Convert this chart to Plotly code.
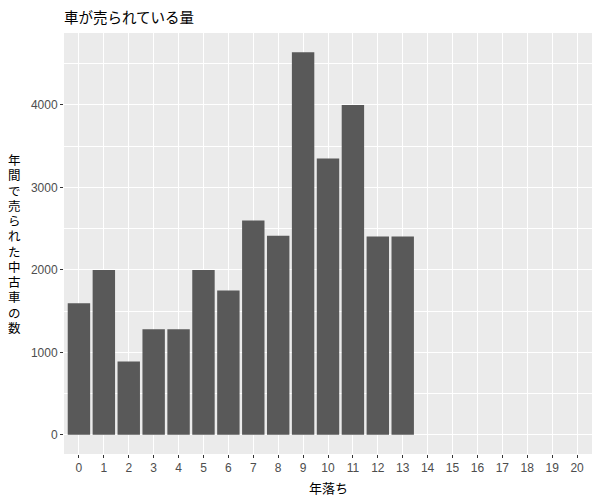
import plotly.graph_objects as go

# 年落ち (years old) and number of used cars sold per year
years_old = list(range(14))
cars_sold = [1595, 2000, 890, 1280, 1280, 2000, 1750, 2600, 2415, 4640, 3350, 4000, 2405, 2405]
x_ticks = list(range(21))
y_ticks = [0, 1000, 2000, 3000, 4000]

title_text = '車が売られている量'
x_title = '年落ち'
y_title = '年間で売られた中古車の数'

cjk = 'Noto Sans CJK JP'
latin = 'Liberation Sans, Arial, sans-serif'

# the page body has an 8px margin, so the figure is made 8px smaller
W, H = 592, 492

fig = go.Figure(go.Bar(x=years_old, y=cars_sold, width=0.9,
                       marker=dict(color='#595959', line=dict(width=0))))

fig.update_layout(
    width=W, height=H,
    margin=dict(l=56, r=8, t=25, b=46, autoexpand=False),
    paper_bgcolor='white', plot_bgcolor='#EBEBEB',
    showlegend=False,
    title=dict(text=title_text, x=0, xref='paper', xanchor='left',
               y=1 - 10 / H, yref='container', yanchor='middle',
               font=dict(family=cjk, size=14.5, color='black')),
)

fig.update_xaxes(
    range=[-0.6, 20.6], tickvals=x_ticks, ticktext=[str(t) for t in x_ticks],
    showgrid=True, gridcolor='white', gridwidth=1.1, zeroline=False,
    ticks='outside', ticklen=3, tickwidth=1, tickcolor='#333333',
    tickfont=dict(family=latin, size=12, color='#4D4D4D'),
    showline=False, automargin=False,
)
fig.update_yaxes(
    range=[-232, 4872], tickvals=y_ticks, ticktext=[str(t) for t in y_ticks],
    showgrid=True, gridcolor='white', gridwidth=1.1, zeroline=False,
    minor=dict(dtick=500, tick0=500, showgrid=True, gridcolor='white', gridwidth=0.5),
    ticks='outside', ticklen=3, tickwidth=1, tickcolor='#333333',
    tickfont=dict(family=latin, size=12, color='#4D4D4D'),
    showline=False, automargin=False,
)

# x-axis title
fig.add_annotation(text=x_title, xref='paper', yref='paper', x=0.5, y=0,
                   xanchor='center', yanchor='middle', yshift=-33, showarrow=False,
                   font=dict(family=cjk, size=13, color='black'))

# stacked vertical y-axis title, one character per line like the original
step = 15.25
n = len(y_title)
for i, ch in enumerate(y_title):
    fig.add_annotation(text=ch, xref='paper', yref='paper', x=0, y=0.5,
                       xanchor='center', yanchor='middle', xshift=-50,
                       yshift=((n - 1) / 2 - i) * step, showarrow=False,
                       font=dict(family=cjk, size=12.5, color='black'))

fig.write_html('out.html')
